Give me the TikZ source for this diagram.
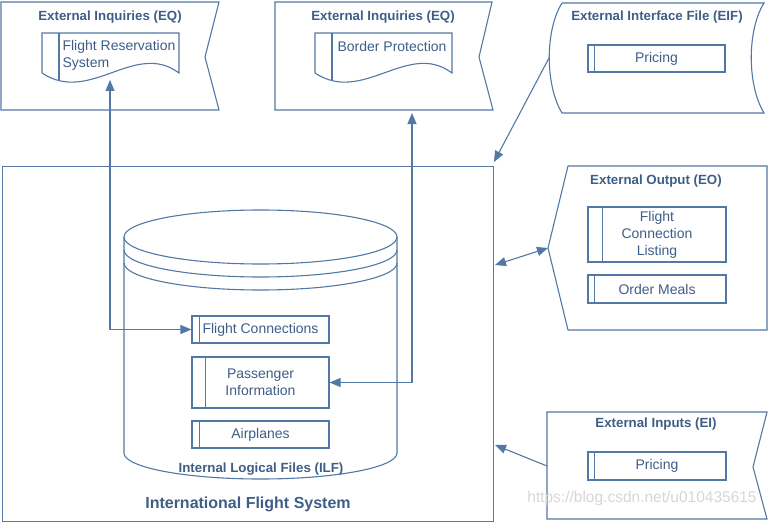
\documentclass[tikz,border=0pt]{standalone}
\usepackage{fontspec}
\setmainfont{Liberation Sans}
\usetikzlibrary{arrows.meta}
\definecolor{lineblue}{RGB}{82,120,165}
\definecolor{textblue}{RGB}{62,93,135}

\begin{document}
\begin{tikzpicture}[x=1pt,y=-1pt,line width=1.1pt,color=lineblue,
  >={Triangle[length=11pt,width=9pt]},
  boxtitle/.style={text=textblue,inner sep=0,yshift=-1pt,font=\fontsize{13.3}{16}\selectfont\bfseries},
  txtfont/.style={text=textblue,inner sep=0,font=\fontsize{14}{17}\selectfont},
  txt/.style={txtfont,yshift=-1.5pt},
  filebox/.style={draw,txtfont,align=center,minimum width=137,minimum height=27}]
\useasboundingbox (0,0) rectangle (770,524);

\draw (1,2) -- (219,2) -- (205,57) -- (219,110) -- (1,110) -- cycle;
\node[boxtitle] (eq1) at (110,16) {External Inquiries (EQ)};
\draw (42,73) -- (42,33) -- (179,33) -- (179,73)
      .. controls (135,40) and (90,105) .. (42,73);
\draw (59,33) -- (59,80);
\node[txt,anchor=west,align=left] (frs) at (62,53.5) {Flight Reservation\\System};
\coordinate (frsin) at (110,80);

\draw (275,2) -- (492,2) -- (479,57) -- (493,110) -- (275,110) -- cycle;
\node[boxtitle] (eq2) at (383,16) {External Inquiries (EQ)};
\draw (315,73) -- (315,33) -- (452,33) -- (452,73)
      .. controls (408,40) and (363,105) .. (315,73);
\draw (332,33) -- (332,80);
\node[txt,anchor=west] (bp) at (337,45) {Border Protection};
\coordinate (bpin) at (412,113);

\draw (562,3) -- (764,3) .. controls (747,30) and (747,85) .. (764,113)
      -- (562,113) .. controls (545,85) and (545,30) .. (562,3);
\node[boxtitle] (eif) at (657,16) {External Interface File (EIF)};
\node[filebox] (eifpr) at (656.5,58.5) {\raisebox{-1.5pt}{Pricing}};
\draw ([xshift=7pt]eifpr.north west) -- ([xshift=7pt]eifpr.south west);
\coordinate (eifout) at (549,58);

\node[draw,minimum width=491,minimum height=355,inner sep=0,anchor=north west] (ifs) at (2,166) {};
\node[txt,font=\fontsize{16}{19}\selectfont\bfseries] (ifsname) at (248,503) {International Flight System};
\coordinate (ifsnw) at (494,162);
\coordinate (ifseo) at (495,265);
\coordinate (ifsei) at (495,445);

\draw (260.5,237) ellipse [x radius=136.5pt,y radius=27pt];
\draw (124,250) arc[start angle=180,end angle=360,x radius=136.5pt,y radius=27pt];
\draw (124,263) arc[start angle=180,end angle=360,x radius=136.5pt,y radius=27pt];
\draw (124,237) -- (124,453) arc[start angle=180,end angle=360,x radius=136.5pt,y radius=26pt] -- (397,237);
\node[boxtitle] (ilf) at (261,468) {Internal Logical Files (ILF)};

\node[filebox] (fconn) at (260.5,329.5) {\raisebox{-1.5pt}{Flight Connections}};
\draw ([xshift=8pt]fconn.north west) -- ([xshift=8pt]fconn.south west);
\node[filebox,minimum height=51] (pinfo) at (260.5,382.5) {Passenger\\Information};
\draw ([xshift=14pt]pinfo.north west) -- ([xshift=14pt]pinfo.south west);
\node[filebox] (airpl) at (260.5,434.5) {\raisebox{-1.5pt}{Airplanes}};
\draw ([xshift=8pt]airpl.north west) -- ([xshift=8pt]airpl.south west);

\draw (548,248) -- (568,166) -- (767,166) -- (767,330) -- (568,330) -- cycle;
\coordinate (eoin) at (548,248);
\node[boxtitle] (eo) at (656,180) {External Output (EO)};
\node[filebox,minimum width=138,minimum height=55] (fcl) at (657,234.5) {Flight\\Connection\\Listing};
\draw ([xshift=15pt]fcl.north west) -- ([xshift=15pt]fcl.south west);
\node[filebox,minimum width=138,minimum height=28] (meals) at (657,289) {\raisebox{-1.5pt}{Order Meals}};
\draw ([xshift=7pt]meals.north west) -- ([xshift=7pt]meals.south west);

\draw (547,412) -- (767,412) -- (753,467) -- (767,519) -- (547,519) -- cycle;
\coordinate (eiout) at (547,466);
\node[boxtitle] (ei) at (656,423) {External Inputs (EI)};
\node[filebox,minimum width=138,minimum height=28] (eipr) at (657,466) {\raisebox{-1.5pt}{Pricing}};
\draw ([xshift=7pt]eipr.north west) -- ([xshift=7pt]eipr.south west);

\draw[<->] (fconn.west) -| (frsin);
\draw[<->] (pinfo.east) -| (bpin);
\draw[->] (eifout) -- (ifsnw);
\draw[<->] (ifseo) -- (eoin);
\draw[->] (eiout) -- (ifsei);

\node[txt,text=black!16,font=\fontsize{15.5}{18}\selectfont] (wm) at (642,497) {https://blog.csdn.net/u010435615};
\end{tikzpicture}
\end{document}
